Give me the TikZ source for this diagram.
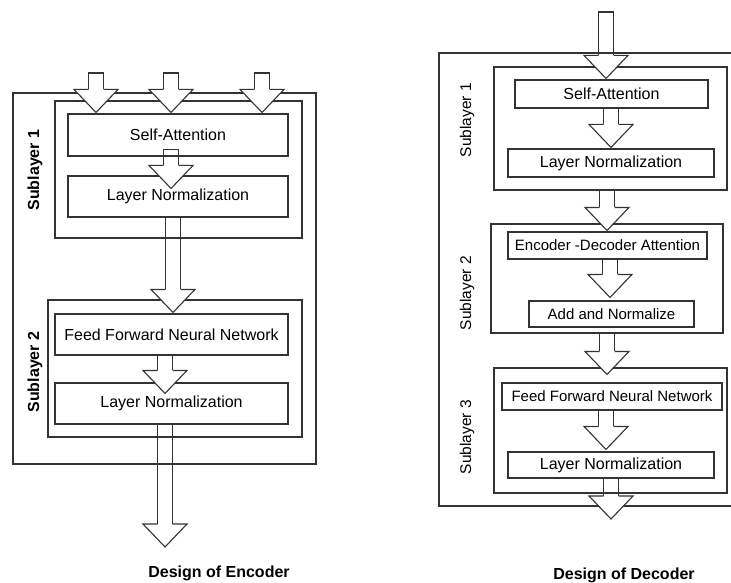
\documentclass[tikz,border=0pt]{standalone}
\usepackage{fontspec}
\setmainfont{Liberation Sans}
\usetikzlibrary{calc}

% block arrow: open shaft from #1 down to the white head whose tip is #2
\newcommand{\fatarrow}[2]{%
  \draw[arrline] let \p1=(#1), \p2=(#2) in
    (\x2-7.5pt,\y2+23pt) -- (\x2-7.5pt,\y1) -- (\x2+7.5pt,\y1) -- (\x2+7.5pt,\y2+23pt);
  \filldraw[arrline,fill=white] let \p2=(#2) in
    (\x2-7.5pt,\y2+23pt) -- (\x2-22pt,\y2+23pt) -- (\x2,\y2) -- (\x2+22pt,\y2+23pt) -- (\x2+7.5pt,\y2+23pt);
}

\begin{document}
\begin{tikzpicture}[x=1pt,y=-1pt,
    frame/.style={draw=black!80,line width=1.1pt,inner sep=0pt},
    blk/.style={frame,font=\fontsize{16}{19}\selectfont},
    sblk/.style={frame,font=\fontsize{15}{18}\selectfont},
    arrline/.style={draw=black!80,line width=1.1pt,line join=miter},
    sublbl/.style={rotate=90,font=\bfseries\fontsize{16}{19}\selectfont},
    dsublbl/.style={rotate=90,font=\fontsize{15.5}{18}\selectfont},
    caption/.style={font=\bfseries\fontsize{16}{19}\selectfont}]
\useasboundingbox (0,0) rectangle (731,583);

% encoder
\node[frame,minimum width=303,minimum height=371] (eouter) at (164.5,278.5) {};
\node[frame,minimum width=247,minimum height=137] (esub1) at (178.5,169.5) {};
\node[blk,minimum width=220,minimum height=42] (esa) at (178,135) {Self-Attention};
\node[blk,minimum width=220,minimum height=41] (eln1) at (178,196.5) {Layer Normalization};
\node[frame,minimum width=254,minimum height=137] (esub2) at (175,368.5) {};
\node[blk,minimum width=233,minimum height=41] (effn) at (171.5,334.5) {Feed Forward Neural Network};
\node[blk,minimum width=233,minimum height=41] (eln2) at (171.5,403.5) {Layer Normalization};
\node[sublbl] (elbl1) at (35,170) {Sublayer 1};
\node[sublbl] (elbl2) at (35,372) {Sublayer 2};
\node[caption] (ecap) at (219,573) {Design of Encoder};

\coordinate (ein1) at (96,73);
\coordinate (ein2) at (171,73);
\coordinate (ein3) at (262,73);
\coordinate (eout) at (165,547);

\foreach \c in {ein1,ein2,ein3}{
  \fatarrow{\c}{$(esa.north -| \c)+(0,-1)$}
}
\fatarrow{$(esa.south)+(0,-7)$}{$(eln1.north)+(-7,13)$}
\fatarrow{eln1.south}{$(esub2.north)+(-2,13)$}
\fatarrow{effn.south}{$(eln2.north)+(-6.5,11)$}
\fatarrow{eln2.south}{eout}

% decoder
\node[frame,minimum width=301,minimum height=453] (douter) at (589.5,279.5) {};
\node[frame,minimum width=233,minimum height=123] (dsub1) at (610.5,128.5) {};
\node[blk,minimum width=193,minimum height=28] (dsa) at (611.5,94) {Self-Attention};
\node[blk,minimum width=206,minimum height=28] (dln1) at (611,163) {Layer Normalization};
\node[frame,minimum width=232,minimum height=109] (dsub2) at (607,278.5) {};
\node[sblk,minimum width=199,minimum height=27] (deda) at (607.5,245.5) {Encoder -Decoder Attention};
\node[sblk,minimum width=165,minimum height=26] (dan) at (611.5,314) {Add and Normalize};
\node[frame,minimum width=233,minimum height=125] (dsub3) at (610.5,430.5) {};
\node[sblk,minimum width=220,minimum height=27] (dffn) at (612,396.5) {Feed Forward Neural Network};
\node[blk,minimum width=206,minimum height=26] (dln3) at (611,465) {Layer Normalization};
\node[dsublbl] (dlbl1) at (467,120) {Sublayer 1};
\node[dsublbl] (dlbl2) at (467,293) {Sublayer 2};
\node[dsublbl] (dlbl3) at (467,437) {Sublayer 3};
\node[caption] (dcap) at (624,575) {Design of Decoder};

\coordinate (din) at (606,12);
\coordinate (dout) at (611,519);

\fatarrow{din}{$(dsa.north -| din)+(0,-1)$}
\fatarrow{dsa.south}{$(dln1.north)+(0,-1)$}
\fatarrow{dsub1.south}{$(dsub2.north)+(0,7)$}
\fatarrow{deda.south}{$(dan.north)+(-1.5,-3)$}
\fatarrow{dsub2.south}{$(dsub3.north)+(-3.5,7)$}
\fatarrow{dffn.south}{$(dln3.north)+(-5,-2)$}
\fatarrow{dln3.south}{dout}
\end{tikzpicture}
\end{document}
